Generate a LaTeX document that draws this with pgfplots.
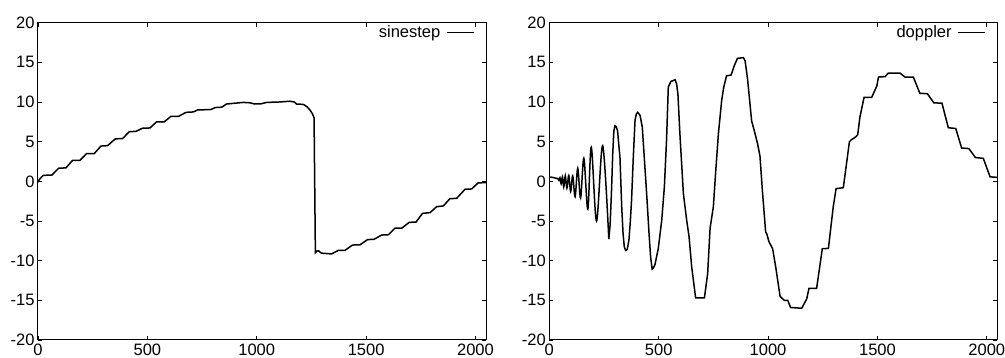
\documentclass[border=0pt]{standalone}
\usepackage{fontspec}
\setmainfont{Liberation Sans}
\usepackage{pgfplots}
\pgfplotsset{compat=1.18}
\begin{document}
\begin{tikzpicture}[x=1pt,y=1pt]
\useasboundingbox (0,0) rectangle (1005,358);
\pgfplotsset{
  every axis/.append style={
    scale only axis, width=448pt, height=317.3pt,
    xmin=0, xmax=2048, ymin=-20, ymax=20,
    xtick={0,500,1000,1500,2000}, ytick={-20,-15,...,20},
    tick align=inside, tick pos=both, major tick length=4pt,
    tick style={line width=0.8pt, black},
    axis line style={line width=1pt},
    /pgf/number format/assume math mode=true,
    /pgf/number format/1000 sep={},
    tick label style={font=\fontsize{16.5}{19}\selectfont},
    legend style={draw=none, fill=none, at={(1,1)}, anchor=north east, xshift=-8pt, yshift=1pt,
      font=\fontsize{16.5}{19}\selectfont},
    legend plot pos=right,
    legend image code/.code={\path (0pt,0pt); \draw[#1] (4pt,0pt) -- (31pt,0pt);},
  }
}
\begin{axis}[at={(38pt,18pt)}, anchor=south west]
\addplot[black, line width=1.5pt] coordinates {
(0,-0.1) (8,0.3) (24,0.75) (64,0.8) (94,1.65) (128,1.7) (158,2.65) (192,2.65)
(222,3.5) (257,3.5) (288,4.45) (318,4.5) (353,5.35) (387,5.4) (417,6.26) (448,6.3)
(478,6.7) (512,6.73) (542,7.5) (577,7.5) (608,8.2) (643,8.2) (677,8.7) (710,8.75)
(730,9.0) (790,9.05) (810,9.3) (840,9.35) (862,9.75) (900,9.85) (940,9.95) (970,9.9)
(990,9.75) (1020,9.78) (1045,9.95) (1100,10.0) (1152,10.1) (1172,10.0) (1182,9.75)
(1213,9.7) (1230,9.4) (1243,9.0) (1255,8.5) (1262,8.0) (1268,-9.0) (1275,-8.8)
(1282,-8.75) (1295,-9.05) (1342,-9.15) (1373,-8.7) (1403,-8.7) (1438,-8.03) (1472,-8.0)
(1506,-7.35) (1536,-7.3) (1571,-6.77) (1602,-6.73) (1632,-5.9) (1663,-5.9) (1697,-5.17)
(1728,-5.13) (1758,-4.03) (1792,-3.95) (1822,-3.2) (1853,-3.1) (1883,-2.19) (1914,-2.14)
(1952,-1.0) (1982,-0.96) (2012,-0.2) (2048,-0.15)
};
\addlegendentry{sinestep}
\end{axis}
\begin{axis}[at={(549.3pt,18pt)}, anchor=south west]
\addplot[black, line width=1.5pt, smooth, tension=0.55] coordinates {
(0,0.55) (15,0.5) (30,0.4) (38.6,0.35) (43.4,0.15) (48.6,0.45) (54,-0.3) (60,0.55)
(66,-0.7) (73,0.7) (80.6,-0.85) (89,0.75) (97.6,-1.3) (107,0.7) (118,-1.93) (130,1.64)
(143,-2.1) (158,2.9) (176,-3.5) (192,4.3) (216,-5.0) (244,4.5) (272,-7.27)
};
\addlegendentry{doppler}
\addplot[black, line width=1.5pt, forget plot] coordinates {
(272,-7.27) (278,-5.5) (284,-1.5) (290,3.5) (295,6.3) (300,7.0) (306,6.9) (312,6.4)
(318,4.5) (323,3.07) (331,-3.2) (337,-6.5) (343,-8.3) (349,-8.7) (356,-8.6) (364,-7.4)
(370,-5.2) (376,-2.4) (384,3.07) (392,7.7) (398,8.5) (404,8.7) (410,8.5) (415,8.3)
(425,6.85) (434,3.07) (445,-1.55) (456,-6.6) (463,-9.5) (470,-11.05) (476,-10.9)
(483,-10.5) (498,-8.5) (514,-4.9) (526,-0.7) (536,5.2) (544,11.9) (556,12.6) (575,12.8)
(582,12.3) (588,11.0) (597,6.0) (613,-1.55) (628,-4.9) (639,-7.0) (651,-10.8) (669,-14.7)
(709,-14.7) (724,-11.6) (735,-5.9) (750,-3.2) (760,0.97) (773,6.0) (788,10.2) (797,11.8)
(810,13.3) (831,13.4) (846,14.6) (860,15.5) (887,15.6) (895,15.2) (902,13.8) (907,12.7)
(925,7.6) (937,6.4) (952,4.75) (963,3.2) (974,-1.13) (989,-6.4) (994,-6.6) (1004,-7.6)
(1021,-8.5) (1035,-10.8) (1055,-14.5) (1074,-15.0) (1090,-15.0) (1103,-15.9) (1154,-16.0)
(1177,-14.8) (1187,-13.5) (1222,-13.5) (1248,-8.5) (1276,-8.45) (1298,-3.2) (1311,-0.92)
(1344,-0.8) (1372,5.0) (1379,5.2) (1402,5.63) (1410,5.9) (1420,8.1) (1439,10.6) (1474,10.6)
(1497,12.0) (1505,13.15) (1535,13.2) (1550,13.65) (1603,13.65) (1626,13.15) (1664,13.15)
(1694,11.1) (1728,11.05) (1758,9.9) (1795,9.85) (1824,6.76) (1858,6.66) (1885,4.2)
(1918,4.13) (1948,3.0) (1984,2.9) (2015,0.57) (2048,0.5)
};
\end{axis}
\end{tikzpicture}
\end{document}
